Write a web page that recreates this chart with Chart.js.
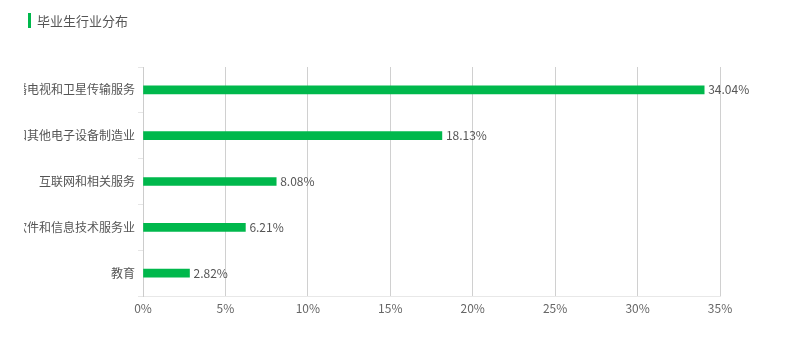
<!DOCTYPE html>
<html>
<head>
<meta charset="utf-8">
<script src="https://cdn.jsdelivr.net/npm/chart.js@4/dist/chart.umd.min.js"></script>
<style>
html,body{margin:0;padding:0;background:#fff;}
#wrap{position:relative;width:800px;height:346px;}
</style>
</head>
<body>
<div id="wrap"><canvas id="c" width="800" height="346"></canvas></div>
<script>
const titleText = "毕业生行业分布";
const categories = ["广播电视和卫星传输服务", "计算机、通信和其他电子设备制造业", "互联网和相关服务", "软件和信息技术服务业", "教育"];
const values = [34.04, 18.13, 8.08, 6.21, 2.82];
const xTicks = [0, 5, 10, 15, 20, 25, 30, 35];

const FONT = "'Noto Sans CJK SC', 'Noto Sans', sans-serif";
const GREEN = "#00b84c";

const titlePlugin = {
  id: "titleMark",
  afterDraw(chart) {
    const ctx = chart.ctx;
    ctx.save();
    ctx.fillStyle = GREEN;
    ctx.fillRect(28, 13, 3, 15);
    ctx.fillStyle = "#555";
    ctx.font = "13px " + FONT;
    ctx.textBaseline = "middle";
    ctx.textAlign = "left";
    ctx.fillText(titleText, 37, 21);
    ctx.restore();
  }
};

// category labels, clipped to the label column like the original
const catLabels = {
  id: "catLabels",
  afterDraw(chart) {
    const ctx = chart.ctx;
    const y = chart.scales.y;
    ctx.save();
    ctx.beginPath();
    ctx.rect(24, 0, y.right - 24, chart.height);
    ctx.clip();
    ctx.fillStyle = "#555";
    ctx.font = "12px " + FONT;
    ctx.textBaseline = "middle";
    ctx.textAlign = "right";
    categories.forEach((c, i) => {
      ctx.fillText(c, y.right - 8, y.getPixelForValue(i));
    });
    ctx.restore();
  }
};

const valueLabels = {
  id: "valueLabels",
  afterDatasetsDraw(chart) {
    const ctx = chart.ctx;
    const meta = chart.getDatasetMeta(0);
    ctx.save();
    ctx.fillStyle = "#555";
    ctx.font = "12px " + FONT;
    ctx.textBaseline = "middle";
    ctx.textAlign = "left";
    meta.data.forEach((bar, i) => {
      ctx.fillText(values[i].toFixed(2) + "%", bar.x + 4, bar.y);
    });
    ctx.restore();
  }
};

new Chart(document.getElementById("c"), {
  type: "bar",
  data: {
    labels: categories,
    datasets: [{
      data: values,
      backgroundColor: GREEN,
      barThickness: 8,
      borderWidth: 0
    }]
  },
  options: {
    indexAxis: "y",
    responsive: false,
    animation: false,
    layout: { padding: { top: 67, right: 80, left: 0, bottom: 0 } },
    plugins: { legend: { display: false }, tooltip: { enabled: false } },
    scales: {
      x: {
        min: 0, max: 35,
        afterBuildTicks(scale) { scale.ticks = xTicks.map(v => ({ value: v })); },
        afterFit(scale) { scale.height = 50; },
        grid: { color: "#d0d0d0", drawTicks: false, lineWidth: 1 },
        border: { display: true, color: "#e8e8e8" },
        ticks: {
          padding: 5,
          color: "#666",
          font: { size: 12, family: FONT },
          callback: v => v + "%"
        }
      },
      y: {
        afterFit(scale) { scale.width = 143; },
        grid: { drawOnChartArea: false, offset: true, tickLength: 5, color: "#e6e6e6" },
        border: { display: true, color: "#ccc" },
        ticks: { display: false }
      }
    }
  },
  plugins: [titlePlugin, catLabels, valueLabels]
});
</script>
</body>
</html>
